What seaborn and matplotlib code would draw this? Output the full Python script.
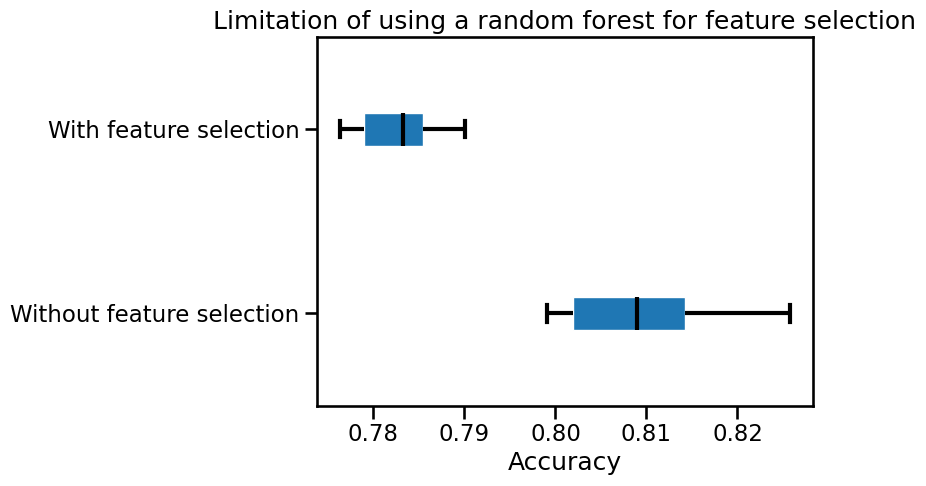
import numpy as np
import pandas as pd
import seaborn as sns
import matplotlib.pyplot as plt

# five-number summaries (min, q1, median, q3, max)
labels = ["With feature selection", "Without feature selection"]
with_fs = [0.7763, 0.7790, 0.7832, 0.7854, 0.7901]
without_fs = [0.7991, 0.8019, 0.8090, 0.8142, 0.8258]

df = pd.DataFrame({
    "method": [labels[0]] * len(with_fs) + [labels[1]] * len(without_fs),
    "Accuracy": with_fs + without_fs,
})

sns.set_context("talk")
fig, ax = plt.subplots(figsize=(9.26, 4.86), dpi=100)
fig.subplots_adjust(left=0.3423, right=0.878, top=0.9239, bottom=0.1656)

sns.boxplot(data=df, x="Accuracy", y="method", order=labels, ax=ax,
            color="#1f77b4", saturation=1, width=0.18, whis=1.5,
            boxprops=dict(edgecolor="white", linewidth=1),
            whiskerprops=dict(color="black", linewidth=3),
            capprops=dict(color="black", linewidth=3),
            medianprops=dict(color="black", linewidth=3))

ax.set_ylabel("")
ax.set_xlabel("Accuracy")
ax.set_title("Limitation of using a random forest for feature selection")
ax.set_xticks([0.78, 0.79, 0.80, 0.81, 0.82])
ax.set_xticklabels(["0.78", "0.79", "0.80", "0.81", "0.82"])
ax.set_xlim(0.7738, 0.8283)

fig.savefig("out.png", dpi=100)
